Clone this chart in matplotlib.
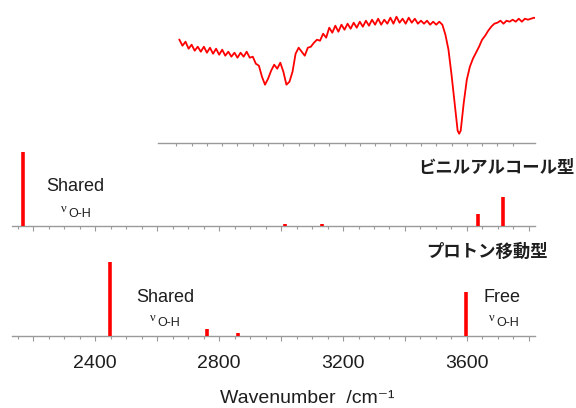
import numpy as np
import matplotlib
matplotlib.use("Agg")
import matplotlib.pyplot as plt

plt.rcParams['font.family'] = ['Liberation Sans', 'DejaVu Sans']

# -------------------------------
# measured IR spectrum (top panel), wavenumber / transmittance (arb.)
ir_wn = [2660, 2670, 2680, 2690, 2700, 2710, 2720, 2730, 2740, 2750,
         2760, 2770, 2780, 2790, 2800, 2810, 2820, 2830, 2840, 2850,
         2860, 2870, 2880, 2890, 2900, 2910, 2920, 2930, 2940, 2950,
         2960, 2970, 2980, 2990, 3000, 3010, 3020, 3030, 3040, 3050,
         3060, 3070, 3080, 3090, 3100, 3110, 3120, 3130, 3140, 3150,
         3160, 3170, 3180, 3190, 3200, 3210, 3220, 3230, 3240, 3250,
         3260, 3270, 3280, 3290, 3300, 3310, 3320, 3330, 3340, 3350,
         3360, 3370, 3380, 3390, 3400, 3410, 3420, 3430, 3440, 3450,
         3460, 3470, 3480, 3490, 3500, 3510, 3520, 3530, 3540, 3550,
         3560, 3570, 3575, 3580, 3590, 3600, 3610, 3620, 3630, 3640,
         3650, 3660, 3670, 3680, 3690, 3700, 3710, 3720, 3730, 3740,
         3750, 3760, 3770, 3780, 3790, 3800, 3810, 3820, 3830]
ir_tr = [103, 97, 101, 94, 98, 92, 96, 91, 96, 90,
         95, 89, 94, 88, 93, 87, 91, 86, 90, 85,
         90, 86, 91, 85, 86, 79, 77, 66, 58, 64,
         72, 78, 74, 80, 71, 58, 61, 71, 89, 95,
         91, 87, 95, 96, 100, 103, 102, 109, 105, 115,
         110, 117, 111, 118, 113, 119, 114, 120, 115, 121,
         116, 122, 117, 123, 118, 124, 118, 123, 119, 125,
         119, 126, 120, 124, 119, 125, 120, 124, 119, 122,
         119, 122, 118, 121, 118, 121, 118, 108, 93, 68,
         40, 12, 9, 12, 40, 63, 76, 84, 90, 96,
         103, 107, 112, 116, 119, 120, 122, 119, 122, 121,
         123, 121, 124, 121, 124, 123, 124, 125, 124]

# calculated lines: vinyl alcohol form
va_wn = [2168, 3013, 3132, 3636, 3718]
va_int = [74, 1.5, 1.2, 12, 29]

# calculated lines: proton transfer form
pt_wn = [2448, 2761, 2862, 3598]
pt_int = [74, 7, 3, 44]

tick_labels = {2400: "2400", 2800: "2800", 3200: "3200", 3600: "3600"}

RED = "#ff0000"
GREY = "#9a9a9a"
INK = "#1e1e1e"
W, H = 576, 408


def style_axis(ax, major, minor, maj_len, min_len):
    for s in ['top', 'left', 'right']:
        ax.spines[s].set_visible(False)
    ax.spines['bottom'].set_color(GREY)
    ax.spines['bottom'].set_linewidth(1.0)
    ax.set_yticks([])
    ax.set_xticks(major)
    ax.set_xticks(minor, minor=True)
    ax.tick_params(axis='x', which='major', direction='out', length=maj_len,
                   width=0.8, color=GREY, labelbottom=False)
    ax.tick_params(axis='x', which='minor', direction='out', length=min_len,
                   width=0.8, color=GREY)
    ax.patch.set_alpha(0)


fig = plt.figure(figsize=(5.76, 4.08), dpi=100)

# top: experimental spectrum
ax0 = fig.add_axes([158 / W, 1 - 142.7 / H, 377 / W, 137.7 / H])
ax0.plot(ir_wn, ir_tr, color=RED, lw=1.3)
ax0.set_xlim(2590, 3823)
ax0.set_ylim(0, 137.7)
style_axis(ax0, np.arange(2800, 3601, 200), np.arange(2650, 3751, 50), 2.5, 1.8)

# middle: vinyl alcohol
ax1 = fig.add_axes([11.7 / W, 1 - 225.5 / H, 523.3 / W, 80 / H])
ax1.vlines(va_wn, 0, va_int, color=RED, lw=2.6, zorder=3)
ax1.set_xlim(2130, 3820)
ax1.set_ylim(0, 80)
style_axis(ax1, np.arange(2200, 3801, 200), np.arange(2150, 3801, 50), 3.5, 2.2)

# bottom: proton transfer
ax2 = fig.add_axes([11.7 / W, 1 - 336 / H, 523.3 / W, 80 / H])
ax2.vlines(pt_wn, 0, pt_int, color=RED, lw=2.6, zorder=3)
ax2.set_xlim(2130, 3820)
ax2.set_ylim(0, 80)
style_axis(ax2, np.arange(2200, 3801, 200), np.arange(2150, 3801, 50), 3.5, 2.2)
majors = np.arange(2200, 3801, 200)
ax2.set_xticklabels([tick_labels.get(int(m), "") for m in majors])
ax2.tick_params(axis='x', which='major', labelbottom=True, labelsize=14,
                labelcolor=INK, pad=10)

fig.text(307.5 / W, 1 - 403 / H, "Wavenumber  /cm\u207b\u00b9", fontsize=14,
         color=INK, ha='center', va='baseline')


def label(x, y, text, size, **kw):
    fig.text(x / W, 1 - y / H, text, fontsize=size, color=INK, va='baseline', **kw)


def nu_oh(x, y):
    label(x, y - 5, "\u03bd", 9, family=['Liberation Serif', 'DejaVu Serif'])
    label(x + 7, y, "O-H", 9)


label(46.7, 190.7, "Shared", 13)
nu_oh(61, 216.7)
label(136.7, 301.7, "Shared", 13)
nu_oh(150, 326)
label(483.3, 301.7, "Free", 13)
nu_oh(489, 326)

cjk = ['Noto Sans CJK JP', 'DejaVu Sans']
label(575, 173, "ビニルアルコール型", 12.5, ha='right', weight='bold', family=cjk)
label(548, 256.5, "プロトン移動型", 12.5, ha='right', weight='bold', family=cjk)

plt.savefig("out.png", dpi=100)
